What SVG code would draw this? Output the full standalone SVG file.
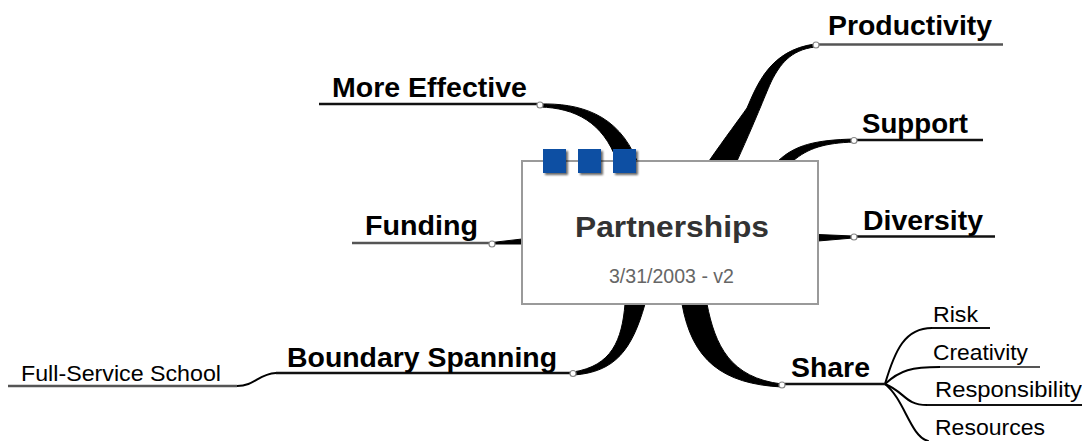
<svg xmlns="http://www.w3.org/2000/svg" width="1082" height="441" viewBox="0 0 1082 441">
  <style>
    .lbl { font-family: "Liberation Sans", Arial, sans-serif; font-weight: bold; font-size: 28px; fill: #000; }
    .sub { font-family: "Liberation Sans", Arial, sans-serif; font-size: 22px; fill: #000; }
    .ul { stroke: #111; stroke-width: 2.5; fill: none; }
    .ul2 { stroke: #111; stroke-width: 2; fill: none; }
    .gray { stroke: #555; }
    .branch { fill: #000; stroke: #000; stroke-width: 1; stroke-linejoin: round; }
    .twig { fill: none; stroke: #000; stroke-width: 2; stroke-linecap: round; }
    .knot { fill: #fff; stroke: #888; stroke-width: 1.2; }
  </style>
  <defs>
    <filter id="shadow" x="-20%" y="-20%" width="150%" height="150%">
      <feGaussianBlur in="SourceAlpha" stdDeviation="1"/>
      <feOffset dx="2" dy="2" result="s"/>
      <feComponentTransfer><feFuncA type="linear" slope="0.6"/></feComponentTransfer>
      <feMerge><feMergeNode/><feMergeNode in="SourceGraphic"/></feMerge>
    </filter>
  </defs>
  <rect width="1082" height="441" fill="#fff"/>

  <!-- branches -->
  <g id="connectors">
    <!-- main topic to first-level topics (tapered) -->
    <path class="branch" d="M540,104 C578,103 618,113 637,161 L617,161 C603,122 575,108 540,107 Z"/>
    <path class="branch" d="M709,161 C725,138 740,118 747,108 C757,85 770,50 815,44 L815,47 C790,50 780,65 772,80 C765,95 760,110 737,161 Z"/>
    <path class="branch" d="M778,161 C795,145 815,140 854,139 L854,142 C825,143 808,148 793,161 Z"/>
    <path class="branch" d="M818,234.5 L853,236 L853,238 L818,241 Z"/>
    <path class="branch" d="M492,242.5 L522,239 L522,244 L492,244 Z"/>
    <path class="branch" d="M625,304 C622,340 612,366 573,372 L574,375 C615,372 632,350 645,304 Z"/>
    <path class="branch" d="M682,304 C692,360 722,384 782,387 L782,384 C730,378 715,345 707,304 Z"/>
    <!-- second-level -->
    <path class="twig" d="M237,386 C255,386 258,374 276,373"/>
    <path class="twig" d="M885,384 C895,350 905,328 932,328"/>
    <path class="twig" d="M885,384 C900,370 912,367 940,367"/>
    <path class="twig" d="M885,384 C905,392 905,405 927,405"/>
    <path class="twig" d="M885,384 C905,400 910,436 928,441"/>
  </g>

  <g id="central">
    <rect x="522" y="161" width="296" height="143" fill="#fff" stroke="#9a9a9a" stroke-width="2"/>
    <g fill="#0b4fa3" filter="url(#shadow)">
      <rect x="543" y="149" width="23" height="24"/>
      <rect x="578" y="149" width="23" height="24"/>
      <rect x="613" y="149" width="23" height="24"/>
    </g>
    <text x="575" y="237" font-family="Liberation Sans, Arial, sans-serif" font-weight="bold" font-size="30" fill="#333" textLength="194" lengthAdjust="spacingAndGlyphs">Partnerships</text>
    <text x="609" y="283" font-family="Liberation Sans, Arial, sans-serif" font-size="20" fill="#666" textLength="125" lengthAdjust="spacingAndGlyphs">3/31/2003 - v2</text>
  </g>

  <g id="more-effective">
    <line class="ul" x1="319" y1="104" x2="537" y2="104"/>
    <circle class="knot" cx="540" cy="105" r="3"/>
    <text class="lbl" x="332" y="97" textLength="195" lengthAdjust="spacingAndGlyphs">More Effective</text>
  </g>

  <g id="productivity">
    <line class="ul gray" x1="818" y1="44.5" x2="1003" y2="44.5"/>
    <circle class="knot" cx="816" cy="45" r="3"/>
    <text class="lbl" x="828" y="35" textLength="164" lengthAdjust="spacingAndGlyphs">Productivity</text>
  </g>

  <g id="support">
    <line class="ul" x1="857" y1="140" x2="983" y2="140"/>
    <circle class="knot" cx="854" cy="140.5" r="3"/>
    <text class="lbl" x="862" y="133" textLength="106" lengthAdjust="spacingAndGlyphs">Support</text>
  </g>

  <g id="diversity">
    <line class="ul" x1="857" y1="236.5" x2="995" y2="236.5"/>
    <circle class="knot" cx="854" cy="237" r="3"/>
    <text class="lbl" x="863" y="230" textLength="120" lengthAdjust="spacingAndGlyphs">Diversity</text>
  </g>

  <g id="funding">
    <line class="ul gray" x1="352" y1="243" x2="489" y2="243"/>
    <circle class="knot" cx="492" cy="244" r="3"/>
    <text class="lbl" x="365" y="235" textLength="113" lengthAdjust="spacingAndGlyphs">Funding</text>
  </g>

  <g id="boundary-spanning">
    <line class="ul" x1="276" y1="373" x2="570" y2="373"/>
    <circle class="knot" cx="573" cy="373.5" r="3"/>
    <text class="lbl" x="287" y="367" textLength="270" lengthAdjust="spacingAndGlyphs">Boundary Spanning</text>
  </g>

  <g id="full-service-school">
    <line class="ul gray" x1="8" y1="386" x2="237" y2="386"/>
    <text class="sub" x="21" y="381" textLength="200" lengthAdjust="spacingAndGlyphs">Full-Service School</text>
  </g>

  <g id="share">
    <line class="ul" x1="785" y1="384" x2="885" y2="384"/>
    <circle class="knot" cx="782" cy="385" r="3"/>
    <text class="lbl" x="791" y="377" textLength="79" lengthAdjust="spacingAndGlyphs">Share</text>
  </g>

  <g id="risk">
    <line class="ul2" x1="932" y1="328" x2="990" y2="328"/>
    <text class="sub" x="933" y="322" textLength="45" lengthAdjust="spacingAndGlyphs">Risk</text>
  </g>

  <g id="creativity">
    <line class="ul2 gray" x1="940" y1="367" x2="1040" y2="367"/>
    <text class="sub" x="933" y="360" textLength="95" lengthAdjust="spacingAndGlyphs">Creativity</text>
  </g>

  <g id="responsibility">
    <line class="ul2" x1="927" y1="405" x2="1082" y2="405"/>
    <text class="sub" x="935" y="397" textLength="147" lengthAdjust="spacingAndGlyphs">Responsibility</text>
  </g>

  <g id="resources">
    <text class="sub" x="935" y="435" textLength="110" lengthAdjust="spacingAndGlyphs">Resources</text>
  </g>
</svg>
